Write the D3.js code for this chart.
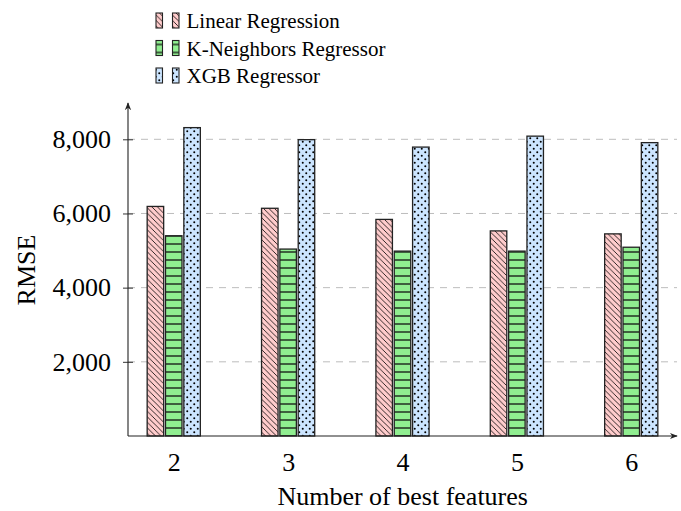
<!DOCTYPE html>
<html>
<head>
<meta charset="utf-8">
<script src="https://cdn.jsdelivr.net/npm/d3@7"></script>
<style>
  body { margin: 0; background: #fff; }
</style>
</head>
<body>
<div id="chart"></div>
<script>
// Data
var features = [2, 3, 4, 5, 6];
var series = ['Linear Regression', 'K-Neighbors Regressor', 'XGB Regressor'];
var linear = [6190, 6140, 5840, 5530, 5450];
var kneighbors = [5400, 5040, 4985, 4985, 5090];
var xgb = [8315, 7990, 7790, 8085, 7910];
var yTicks = [2000, 4000, 6000, 8000];

var values = [linear, kneighbors, xgb];
var width = 681, height = 511;
var serif = 'Liberation Serif';

var svg = d3.select('#chart').append('svg')
    .attr('width', width)
    .attr('height', height)
    .attr('font-family', serif);

var defs = svg.append('defs');

// arrow heads for axes
defs.append('marker')
    .attr('id', 'arrow')
    .attr('viewBox', '0 0 10 10')
    .attr('refX', 9).attr('refY', 5)
    .attr('markerWidth', 8).attr('markerHeight', 8)
    .attr('markerUnits', 'userSpaceOnUse')
    .attr('orient', 'auto')
    .append('path')
    .attr('d', 'M0,1 L10,5 L0,9 L3,5 Z')
    .attr('fill', '#222');

// fill patterns
var p1 = defs.append('pattern').attr('id', 'pat0')
    .attr('patternUnits', 'userSpaceOnUse').attr('width', 5.5).attr('height', 5.5);
p1.append('rect').attr('width', 5.5).attr('height', 5.5).attr('fill', '#ffcccc');
p1.append('path').attr('d', 'M-1,-1 L6.5,6.5 M-1,4.5 L1,6.5 M4.5,-1 L6.5,1')
    .attr('stroke', '#000').attr('stroke-width', 0.8);

var p2 = defs.append('pattern').attr('id', 'pat1')
    .attr('patternUnits', 'userSpaceOnUse').attr('width', 8).attr('height', 8);
p2.append('rect').attr('width', 8).attr('height', 8).attr('fill', '#90ee90');
p2.append('path').attr('d', 'M0,4 L8,4')
    .attr('stroke', '#111').attr('stroke-width', 1.3);

var p3 = defs.append('pattern').attr('id', 'pat2')
    .attr('patternUnits', 'userSpaceOnUse').attr('width', 7).attr('height', 7);
p3.append('rect').attr('width', 7).attr('height', 7).attr('fill', '#cce5ff');
p3.append('circle').attr('cx', 1.75).attr('cy', 1.75).attr('r', 1).attr('fill', '#000');
p3.append('circle').attr('cx', 5.25).attr('cy', 5.25).attr('r', 1).attr('fill', '#000');

// scales
var x = d3.scaleLinear().domain([1.6, 6.4]).range([128, 677]);
var xInner = d3.scaleBand().domain(d3.range(series.length))
    .range([-27.5, 27.5]).paddingInner(0.1).paddingOuter(0.05);
var y = d3.scaleLinear().domain([0, 8000]).range([436, 139.3]);

// grid lines
svg.append('g').selectAll('line')
    .data(yTicks)
    .enter().append('line')
    .attr('x1', 128).attr('x2', 677)
    .attr('y1', d => y(d)).attr('y2', d => y(d))
    .attr('stroke', '#bdbdbd')
    .attr('stroke-width', 1)
    .attr('stroke-dasharray', '7,6');

// bars
values.forEach(function (vals, s) {
    svg.append('g').selectAll('rect')
        .data(vals)
        .enter().append('rect')
        .attr('x', (d, i) => x(features[i]) + xInner(s))
        .attr('y', d => y(d))
        .attr('width', xInner.bandwidth())
        .attr('height', d => y(0) - y(d))
        .attr('fill', 'url(#pat' + s + ')')
        .attr('stroke', '#222')
        .attr('stroke-width', 1.3);
});

// y axis
var yAxis = svg.append('g')
    .attr('transform', 'translate(128,0)')
    .call(d3.axisLeft(y).tickValues(yTicks).tickSize(5).tickPadding(12)
        .tickFormat(d3.format(',')));
yAxis.attr('font-family', serif);
yAxis.select('.domain').remove();
yAxis.selectAll('.tick line').attr('x2', 5).attr('x1', -5).attr('stroke', '#333');
yAxis.selectAll('.tick text').attr('font-size', 26).attr('fill', '#000')
    .attr('font-family', serif);

// x axis labels
var xAxis = svg.append('g')
    .attr('transform', 'translate(0,436)')
    .call(d3.axisBottom(x).tickValues(features).tickSize(0).tickPadding(17)
        .tickFormat(d3.format('d')));
xAxis.attr('font-family', serif);
xAxis.select('.domain').remove();
xAxis.selectAll('.tick text').attr('font-size', 26).attr('fill', '#000')
    .attr('font-family', serif);

// axis lines with arrows
svg.append('line')
    .attr('x1', 128).attr('y1', 436).attr('x2', 677).attr('y2', 436)
    .attr('stroke', '#222').attr('stroke-width', 1.1)
    .attr('marker-end', 'url(#arrow)');
svg.append('line')
    .attr('x1', 128).attr('y1', 436).attr('x2', 128).attr('y2', 103)
    .attr('stroke', '#222').attr('stroke-width', 1.1)
    .attr('marker-end', 'url(#arrow)');

// axis titles
svg.append('text')
    .attr('x', 402.7).attr('y', 505)
    .attr('text-anchor', 'middle')
    .attr('font-family', serif)
    .attr('font-size', 26)
    .text('Number of best features');

svg.append('text')
    .attr('transform', 'translate(35,270)rotate(-90)')
    .attr('text-anchor', 'middle')
    .attr('font-family', serif)
    .attr('font-size', 26)
    .text('RMSE');

// legend
var legend = svg.append('g').selectAll('g')
    .data(series)
    .enter().append('g')
    .attr('transform', (d, i) => 'translate(0,' + (13 + i * 27.5) + ')');
legend.append('rect')
    .attr('x', 156).attr('y', 0).attr('width', 6.5).attr('height', 15)
    .attr('fill', (d, i) => 'url(#pat' + i + ')')
    .attr('stroke', '#222').attr('stroke-width', 1.1);
legend.append('rect')
    .attr('x', 172.5).attr('y', 0).attr('width', 6.5).attr('height', 15)
    .attr('fill', (d, i) => 'url(#pat' + i + ')')
    .attr('stroke', '#222').attr('stroke-width', 1.1);
legend.append('text')
    .attr('x', 186.5).attr('y', 15.3)
    .attr('font-family', serif)
    .attr('font-size', 21)
    .text(d => d);
</script>
</body>
</html>
